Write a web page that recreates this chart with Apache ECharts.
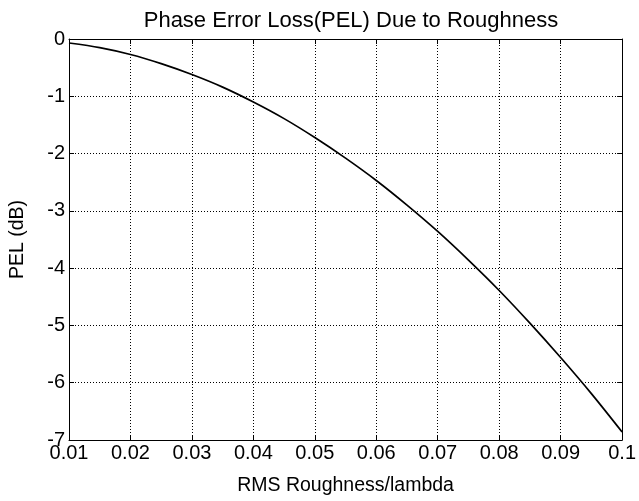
<!DOCTYPE html>
<html>
<head>
<meta charset="utf-8">
<script src="https://cdn.jsdelivr.net/npm/echarts@6/dist/echarts.min.js"></script>
<style>
  html, body { margin: 0; padding: 0; background: #fff; }
  #chart { width: 639px; height: 501px; }
</style>
</head>
<body>
<div id="chart"></div>
<script>
// RMS roughness normalised to wavelength
const roughness = [0.01, 0.015, 0.02, 0.025, 0.03, 0.035, 0.04, 0.045, 0.05, 0.055,
                   0.06, 0.065, 0.07, 0.075, 0.08, 0.085, 0.09, 0.095, 0.1];
// Phase error loss in dB
const pel = [-0.07, -0.15, -0.27, -0.43, -0.62, -0.84, -1.10, -1.39, -1.72, -2.08,
             -2.47, -2.90, -3.36, -3.86, -4.39, -4.96, -5.56, -6.19, -6.86];
// Tick labels
const xTickLabels = ['0.01', '0.02', '0.03', '0.04', '0.05', '0.06', '0.07', '0.08', '0.09', '0.1'];
const yTickLabels = ['-7', '-6', '-5', '-4', '-3', '-2', '-1', '0'];

const FONT = '"Liberation Sans", Arial, Helvetica, sans-serif';
const BLACK = '#000';

const seriesData = roughness.map((x, i) => [x, pel[i]]);

const frameAxis = {
  axisLine: { show: true, onZero: false, lineStyle: { color: BLACK, width: 1 } },
  axisTick: { show: true, inside: true, length: 5, lineStyle: { color: BLACK, width: 1 } },
  axisLabel: { show: false },
  splitLine: { show: false }
};

const chart = echarts.init(document.getElementById('chart'), null, { renderer: 'canvas' });
chart.setOption({
  animation: false,
  backgroundColor: '#fff',
  title: {
    text: 'Phase Error Loss(PEL) Due to Roughness',
    left: 346, top: 5, textAlign: 'center',
    textStyle: { fontFamily: FONT, fontSize: 22, fontWeight: 'normal', color: BLACK }
  },
  grid: { left: 67, right: 13, top: 39, bottom: 59 },
  xAxis: [
    {
      type: 'value', min: 0.01, max: 0.1, interval: 0.01, position: 'bottom',
      name: 'RMS Roughness/lambda', nameLocation: 'middle', nameGap: 36,
      nameTextStyle: { fontFamily: FONT, fontSize: 19.5, color: BLACK },
      axisLine: { show: true, onZero: false, lineStyle: { color: BLACK, width: 1 } },
      axisTick: { show: true, inside: true, length: 5, lineStyle: { color: BLACK } },
      axisLabel: {
        fontFamily: FONT, fontSize: 20, color: BLACK, margin: 3,
        formatter: v => xTickLabels[Math.round((v - 0.01) / 0.01)]
      },
      splitLine: { show: true, lineStyle: { color: BLACK, width: 1, type: [1, 2] } }
    },
    Object.assign({ type: 'value', min: 0.01, max: 0.1, interval: 0.01, position: 'top' }, frameAxis)
  ],
  yAxis: [
    {
      type: 'value', min: -7, max: 0, interval: 1, position: 'left',
      name: 'PEL (dB)', nameLocation: 'middle', nameGap: 41, nameRotate: 90,
      nameTextStyle: { fontFamily: FONT, fontSize: 19.5, color: BLACK },
      axisLine: { show: true, onZero: false, lineStyle: { color: BLACK, width: 1 } },
      axisTick: { show: true, inside: true, length: 5, lineStyle: { color: BLACK } },
      axisLabel: {
        fontFamily: FONT, fontSize: 20, color: BLACK, margin: 4,
        formatter: v => yTickLabels[Math.round(v + 7)]
      },
      splitLine: { show: true, lineStyle: { color: BLACK, width: 1, type: [1, 2] } }
    },
    Object.assign({ type: 'value', min: -7, max: 0, interval: 1, position: 'right' }, frameAxis)
  ],
  series: [{
    type: 'line',
    xAxisIndex: 0, yAxisIndex: 0,
    data: seriesData,
    smooth: 0.3,
    showSymbol: false,
    lineStyle: { color: BLACK, width: 1.7 }
  }]
});
</script>
</body>
</html>
